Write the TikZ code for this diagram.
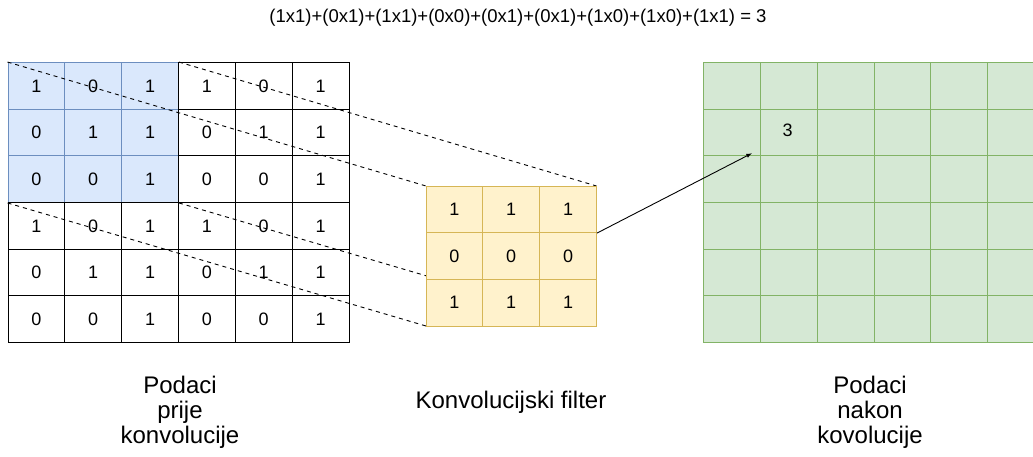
\documentclass[tikz,border=0pt]{standalone}
\usepackage{fontspec}
\setmainfont{Liberation Sans}
\usepackage{tikz}
\usetikzlibrary{calc}
\definecolor{winfill}{HTML}{DAE8FC}
\definecolor{windraw}{HTML}{6C8EBF}
\definecolor{filfill}{HTML}{FFF2CC}
\definecolor{fildraw}{HTML}{D6B656}
\definecolor{outfill}{HTML}{D5E8D4}
\definecolor{outdraw}{HTML}{82B366}
\tikzset{dimen/.style={->,>=latex,line width=0.9pt}}

\begin{document}
\begin{tikzpicture}[x=1pt,y=-1pt]
		\tikzstyle{Cell}=[rectangle,draw=black,line width=0.9pt,inner sep=0pt,minimum width=\w pt,minimum height=\h pt,font=\fontsize{18}{20}\selectfont]
		\tikzstyle{Window}=[Cell,fill=winfill,draw=windraw]
		\tikzstyle{Filter}=[Cell,fill=filfill,draw=fildraw]
		\tikzstyle{Output}=[Cell,fill=outfill,draw=outdraw]
		\tikzstyle{Label}=[align=center,font=\fontsize{24}{25}\selectfont]
		\tikzstyle{Guide}=[dashed,dash pattern=on 4pt off 4pt,line width=0.9pt]

		\useasboundingbox (0,0) rectangle (1033,457);

		\def\w {56.83}
		\def\h {46.67}
		\def\xL {8}
		\def\xF {426}
		\def\xR {703.5}
		\def\yT {62.5}
		\def\yF {186}

		% ulazni podaci
		\foreach \line [count=\r] in {{1,0,1,1,0,1},{0,1,1,0,1,1},{0,0,1,0,0,1},{1,0,1,1,0,1},{0,1,1,0,1,1},{0,0,1,0,0,1}}
		{
			\foreach \v [count=\c] in \line
			{
				\def\st{Cell}
				\ifnum \r<4 \ifnum \c<4 \def\st{Window}\fi \fi
				\node [\st] (L\r\c) at ({\xL + (\c - 0.5) * \w}, {\yT + (\r - 0.5) * \h}) {\v};
			}
		}

		% linije prema filteru (ispod filtera)
		\path (\xF, \yF) coordinate (F0nw) ++(3 * \w, 0) coordinate (F0ne)
		      (\xF, \yF + 3 * \h) coordinate (F0sw) ++(3 * \w, 0) coordinate (F0se);
		\draw [Guide] (L11.north west) -- (F0nw);
		\draw [Guide] (L13.north east) -- (F0ne);
		\draw [Guide] (L31.south west) -- (F0sw);
		\draw [Guide] (L33.south east) -- (F0se);

		% filter
		\foreach \line [count=\r] in {{1,1,1},{0,0,0},{1,1,1}}
		{
			\foreach \v [count=\c] in \line
				\node [Filter] (F\r\c) at ({\xF + (\c - 0.5) * \w}, {\yF + (\r - 0.5) * \h}) {\v};
		}

		% izlazni podaci
		\foreach \r in {1,...,6}
		{
			\foreach \c in {1,...,6}
				\node [Output] (R\r\c) at ({\xR + (\c - 0.5) * \w}, {\yT + (\r - 0.5) * \h}) {};
		}
		\node [font=\fontsize{18}{20}\selectfont] (val) at ([xshift=-1pt,yshift=2pt]R22.center) {3};

		\coordinate (tip) at ([xshift=-8pt,yshift=3pt]R22.south west);
		\draw [dimen] (F13.south east) -- (tip);

		\node [font=\fontsize{18.5}{20}\selectfont] (sum) at (518,18) {(1x1)+(0x1)+(1x1)+(0x0)+(0x1)+(0x1)+(1x0)+(1x0)+(1x1) = 3};
		\node [Label] (before) at (180,412) {Podaci\\prije\\konvolucije};
		\node [Label] (kernel) at (511,402) {Konvolucijski filter};
		\node [Label] (after) at (870,412) {Podaci\\nakon\\kovolucije};
\end{tikzpicture}
\end{document}
